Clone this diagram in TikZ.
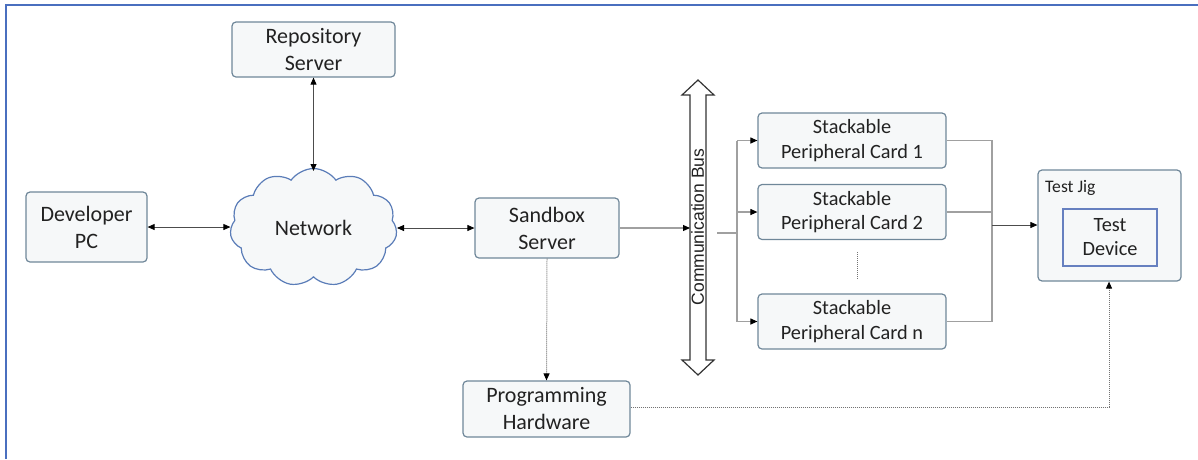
\documentclass[tikz,border=0pt]{standalone}
\usepackage{fontspec}
\setmainfont{Carlito}
\newfontfamily\arialf{Liberation Sans}
\usetikzlibrary{shapes.symbols,arrows.meta}
\definecolor{boxline}{HTML}{6F8799}
\definecolor{boxfill}{HTML}{F6F8F9}
\definecolor{cloudline}{HTML}{5B7DB8}
\definecolor{devline}{HTML}{6680C0}
\definecolor{borderblue}{HTML}{4A6FBF}
\definecolor{txt}{HTML}{222222}
\definecolor{grayline}{HTML}{A0A0A0}
\begin{document}
\begin{tikzpicture}[x=1pt,y=-1pt,
  box/.style={draw=boxline, fill=boxfill, rounded corners=4pt, line width=1.2pt,
    inner sep=0pt, align=center, text=txt},
  mainbox/.style={box, font=\fontsize{22}{27}\selectfont},
  cardbox/.style={box, font=\fontsize{20.3}{24.5}\selectfont, minimum width=188pt, minimum height=55pt},
  tip/.style={-{Triangle[length=7pt,width=6pt,color=black]}},
  bitip/.style={{Triangle[length=7pt,width=6pt,color=black]}-{Triangle[length=7pt,width=6pt,color=black]}},
  conn/.style={line width=0.8pt, draw=black!70},
  gconn/.style={line width=1.1pt, draw=grayline},
  dconn/.style={line width=1pt, draw=black!55, densely dotted}
]
\useasboundingbox (0,0) rectangle (1198,459);
% frame
\draw[borderblue, line width=2pt] (6,459) -- (6,4.5) -- (1198,4.5);

% nodes
\node[mainbox, minimum width=163pt, minimum height=55pt] (repo) at (313.5,49.5) {Repository\\Server};
\node[mainbox, minimum width=121pt, minimum height=70pt] (dev) at (86.5,227) {Developer\\PC};
\node[cloud, cloud puffs=11, cloud puff arc=110, aspect=1.4, draw=cloudline, fill=boxfill,
  line width=1.2pt, minimum width=167pt, minimum height=118pt, inner sep=0pt, text=txt,
  font=\fontsize{22}{27}\selectfont] (net) at (313.5,227.5) {Network};
\node[mainbox, minimum width=144pt, minimum height=60pt] (sand) at (547,228) {Sandbox\\Server};
\node[mainbox, minimum width=167pt, minimum height=56pt] (prog) at (546.5,409) {Programming\\Hardware};

\node[cardbox] (card1) at (852,140.5) {Stackable\\Peripheral Card 1};
\node[cardbox] (card2) at (852,212) {Stackable\\Peripheral Card 2};
\node[cardbox] (cardn) at (852,321.5) {Stackable\\Peripheral Card n};

\node[box, minimum width=143pt, minimum height=111pt] (jig) at (1109.5,225.5) {};
\node[anchor=base west, inner sep=0pt, text=txt, font=\fontsize{17.6}{21}\selectfont] (jiglbl) at (1045,192) {Test Jig};
\node[draw=devline, fill=boxfill, line width=1.5pt, minimum width=94pt, minimum height=57pt,
  inner sep=0pt, align=center, text=txt, font=\fontsize{20.3}{24}\selectfont] (tdev) at (1110,237.5) {Test\\Device};

% communication bus
\draw[line width=1.2pt, draw=black!80, fill=white]
  (698,80) -- (714,95) -- (706,95) -- (706,360) -- (714,360) -- (698,375)
  -- (682,360) -- (690,360) -- (690,95) -- (682,95) -- cycle;
\node[rotate=90, inner sep=0pt, text=txt, font=\arialf\fontsize{17.5}{21}\selectfont] (bus) at (697.5,227) {Communication Bus};
\coordinate (busL) at (690,228);
\coordinate (busR) at (717,233);
\coordinate (fan) at (737,233);
\coordinate (col) at (992,225);

% connectors
\draw[conn, bitip] (dev.east) -- (net.west |- dev.east);
\draw[conn, bitip] (repo.south) -- (313.5,171);
\draw[conn, bitip] (397,228) -- (sand.west);
\draw[gconn, tip] (sand.east) -- (busL);

\draw[gconn] (busR) -- (fan);
\draw[gconn] (card1.west -| fan) -- (cardn.west -| fan);
\draw[gconn, tip] (card1.west -| fan) -- (card1.west);
\draw[gconn, tip] (card2.west -| fan) -- (card2.west);
\draw[gconn, tip] (cardn.west -| fan) -- (cardn.west);

\draw[gconn] (card1.east) -- (card1.east -| col) -- (cardn.east -| col) -- (cardn.east);
\draw[gconn] (card2.east) -- (card2.east -| col);
\draw[conn, tip] (col) -- (jig.west |- col);

\draw[dconn] ([xshift=5pt,yshift=-12pt]card2.south) -- ([xshift=5pt,yshift=14pt]cardn.north);

\draw[dconn, tip] (sand.south) -- (prog.north);
\draw[dconn, tip] (prog.east |- 0,407) -- (1109,407) -- (jig.south -| 1109,0);
\end{tikzpicture}
\end{document}
